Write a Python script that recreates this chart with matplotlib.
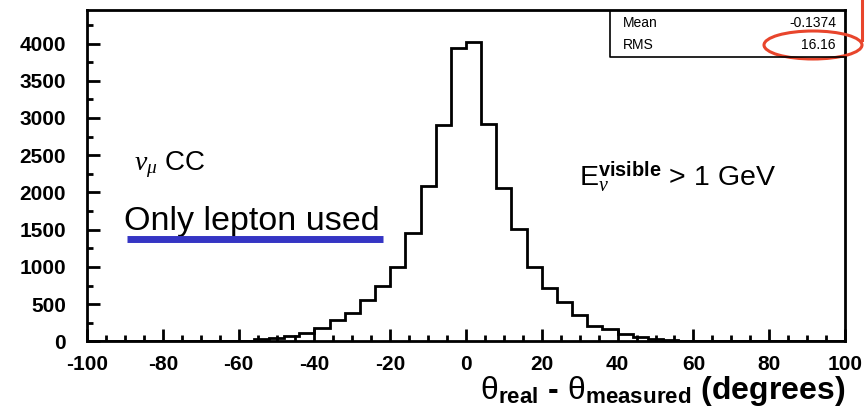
import matplotlib
matplotlib.use("Agg")
import matplotlib.pyplot as plt
from matplotlib.patches import Ellipse
from matplotlib.lines import Line2D
from matplotlib.ticker import MultipleLocator
import numpy as np

plt.rcParams['font.family'] = ['Liberation Sans', 'DejaVu Sans']
plt.rcParams['axes.unicode_minus'] = False
plt.rcParams['mathtext.fontset'] = 'custom'
plt.rcParams['mathtext.rm'] = 'Liberation Sans'
plt.rcParams['mathtext.it'] = 'Liberation Serif:italic'
plt.rcParams['mathtext.bf'] = 'Liberation Sans:bold'

# angular residual histogram, 50 bins of 4 degrees from -100 to 100
edges = np.arange(-100, 101, 4)
counts = [0, 0, 0, 0, 0, 0, 0, 0, 0,
          2, 8, 27, 48, 75, 110, 178, 287, 380, 556,
          750, 1003, 1451, 2090, 2900, 3940, 4015, 2920, 2055, 1505,
          1003, 713, 533, 354, 212, 172, 105, 63, 30, 15,
          8, 3,
          0, 0, 0, 0, 0, 0, 0, 0, 0]

stat_names = ['Mean', 'RMS']
stat_values = ['-0.1374', '16.16']

fig = plt.figure(figsize=(8.68, 4.15), dpi=100)
ax = fig.add_axes([87/868, 1 - 341.4/415, (845 - 87)/868, (341.4 - 10)/415])

ax.stairs(counts, edges, baseline=0, color='black', lw=2.0)

ax.set_xlim(-100, 100)
ax.set_ylim(0, 4450)
ax.xaxis.set_major_locator(MultipleLocator(20))
ax.xaxis.set_minor_locator(MultipleLocator(5))
ax.yaxis.set_major_locator(MultipleLocator(500))
ax.yaxis.set_minor_locator(MultipleLocator(250))
ax.tick_params(which='both', direction='in', width=2, top=False, right=False)
ax.tick_params(which='major', length=9)
ax.tick_params(which='minor', length=4.5)
ax.tick_params(axis='x', which='major', pad=10, labelsize=15)
ax.tick_params(axis='y', which='major', pad=15, labelsize=15)
for lab in ax.get_xticklabels() + ax.get_yticklabels():
    lab.set_fontweight('bold')
for sp in ax.spines.values():
    sp.set_linewidth(2)

ax.set_xlabel(r'$\mathrm{\theta}_{\mathbf{real}}$ - $\mathrm{\theta}_{\mathbf{measured}}$ (degrees)',
              fontsize=23, fontweight='bold', ha='right', x=1.0, labelpad=0)

# annotations
ax.text(-87.6, 2370, r'$\nu_{\mu}$ CC', fontsize=20, va='center', ha='left')
ax.text(-90.2, 1616, 'Only lepton used', fontsize=24.5, va='center', ha='left')
ax.text(29.8, 2207, r'E$_{\nu}^{\mathbf{visible}}$ > 1 GeV', fontsize=20.5,
        va='center', ha='left')
fig.add_artist(Line2D([126.7/868, 382.7/868], [1 - 239/415, 1 - 239/415],
                      color='#3535c4', lw=5, solid_capstyle='butt'))

# stats box
bx0, bx1, by1 = 610/868, 846/868, 1 - 56.7/415
fig.add_artist(Line2D([bx0, bx0, bx1], [1 - 10.7/415, by1, by1], color='black', lw=1.2))
for i, (n, v) in enumerate(zip(stat_names, stat_values)):
    yy = 1 - (23.3 + 21.7*i)/415
    fig.text(623/868, yy, n, fontsize=10, va='center', ha='left')
    fig.text(836/868, yy, v, fontsize=10, va='center', ha='right')

# red highlight
fig.add_artist(Ellipse((813/868, 1 - 45/415), 98/868, 28/415, transform=fig.transFigure,
                       fill=False, edgecolor='#e8452c', lw=2.2))
fig.add_artist(Line2D([862/868, 862/868], [1.0, 1 - 40/415], color='#e8452c', lw=2.2))

fig.savefig('out.png', dpi=100)
